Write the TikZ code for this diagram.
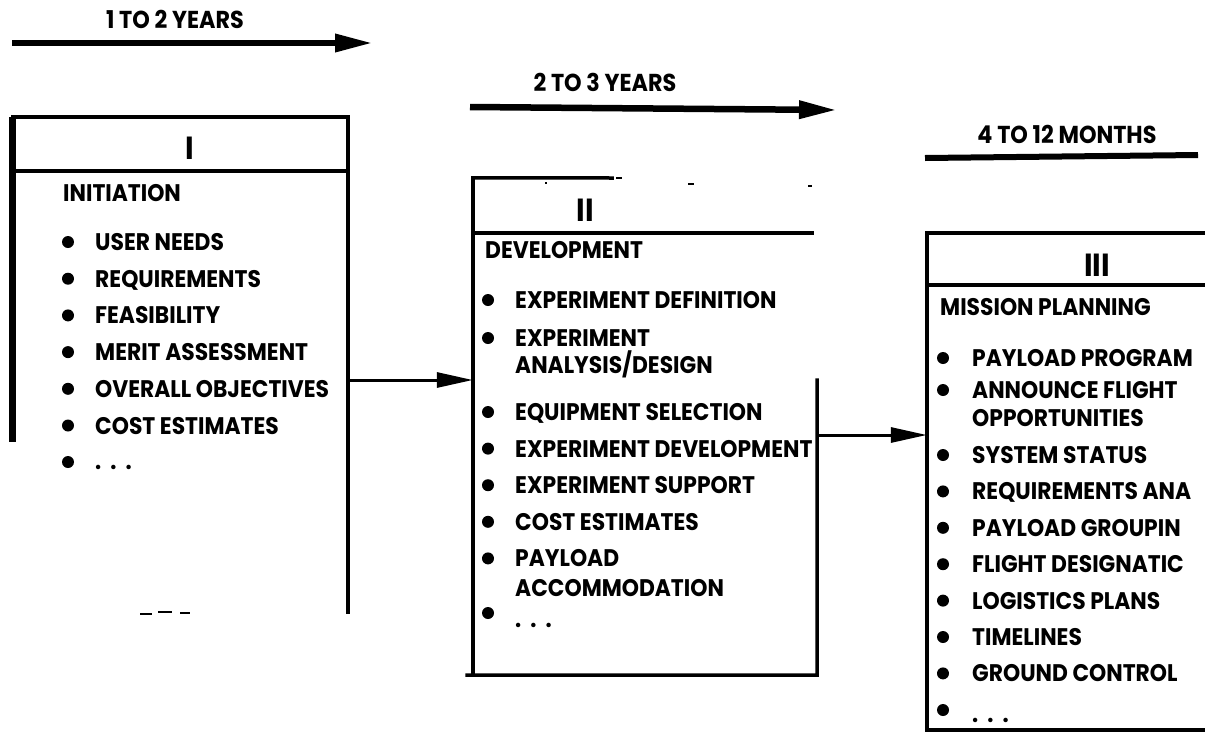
\documentclass[tikz,border=0pt]{standalone}
\usepackage{fontspec}
\setmainfont[FakeStretch=0.91]{Poppins}
\usetikzlibrary{arrows.meta}
\tikzset{
  txt/.style={anchor=base west, inner sep=0pt, font=\fontsize{24}{24}\selectfont\bfseries},
  lbl/.style={anchor=base, inner sep=0pt, font=\fontsize{24.5}{24.5}\selectfont\bfseries},
  num/.style={anchor=base, inner sep=0pt, font=\fontsize{32}{32}\selectfont\bfseries},
  bul/.style={circle, fill=black, draw=none, inner sep=0pt, minimum size=12pt},
  boxarea/.style={draw=none, inner sep=0pt, rectangle},
  frame/.style={line width=3.5pt, line cap=rect},
  span/.style={line width=6.5pt, -{Triangle[length=38pt,width=17pt]}},
  spanline/.style={line width=6pt},
  conn/.style={line width=3pt, -{Triangle[length=36pt,width=15pt]}},
}
\newcommand{\mydots}{{.}\hspace{9pt}{.}\hspace{9pt}{.}}
\begin{document}
\begin{tikzpicture}[x=1pt,y=-1pt]
\useasboundingbox[fill=white] (0,0) rectangle (1205,734);

% box areas
\node[boxarea, minimum width=335pt, minimum height=495pt] (b1) at (180.5,364.5) {};
\node[boxarea, minimum width=344pt, minimum height=497pt] (b2) at (645,426.5) {};
\node[boxarea, minimum width=278pt, minimum height=497pt] (b3) at (1066,481.5) {};

% timeline arrows
\node[lbl] (t1) at (175,28) {1 TO 2 YEARS};
\coordinate (t1a) at (12,43);
\coordinate (t1b) at (373,43);
\draw[span] (t1a) -- (t1b);

\node[lbl] (t2) at (605,91) {2 TO 3 YEARS};
\coordinate (t2a) at (470,107);
\coordinate (t2b) at (837,110);
\draw[span] (t2a) -- (t2b);

\node[lbl] (t3) at (1067,143) {4 TO 12 MONTHS};
\coordinate (t3a) at (925,158);
\coordinate (t3b) at (1198,155);
\draw[spanline] (t3a) -- (t3b);

% ---- Box I ----
\draw[line width=4.5pt, line cap=rect] (b1.south east) -- (b1.north east) -- (b1.north west);
\draw[line width=7pt] (b1.north west) -- (b1.west |- 0,442);
\draw[frame] (b1.west |- 0,171) -- (b1.east |- 0,171);
\node[num] (n1) at (190,159) {I};
\node[txt] (h1) at (63,201.5) {INITIATION};
\foreach \i/\t in {0/USER NEEDS,1/REQUIREMENTS,2/FEASIBILITY,3/MERIT ASSESSMENT,4/OVERALL OBJECTIVES,5/COST ESTIMATES}{
  \node[bul] (b1d\i) at (68,242+36.7*\i) {};
  \node[txt] (b1t\i) at (95,250.5+36.7*\i) {\t};
}
\node[bul] (b1d6) at (68,462) {};
\node[txt] (b1t6) at (95,469) {\mydots};
\draw[line width=2pt] (140,614) -- (152,614) (158,612) -- (172,612) (180,613) -- (190,613);

% ---- Box II ----
\draw[frame] (b2.north west) -- (612,178);
\draw[line width=2pt] (616,178) -- (622,178) (688,184) -- (694,184) (808,186) -- (812,186) (545,183) -- (547,183);
\draw[frame] (b2.north west) -- (b2.south west);
\draw[frame] (467,675) -- (b2.south east) -- (b2.east |- 0,380);
\draw[frame] (b2.west |- 0,233) -- (812,233);
\node[num] (n2) at (585,221) {II};
\node[txt] (h2) at (485,258.5) {DEVELOPMENT};
\node[bul] (b2d0) at (488,300) {};
\node[txt] (b2t0) at (515,308.5) {EXPERIMENT DEFINITION};
\node[bul] (b2d1) at (488,338) {};
\node[txt] (b2t1) at (515,346.5) {EXPERIMENT};
\node[txt] (b2t1b) at (515,373.5) {ANALYSIS/DESIGN};
\foreach \i/\t in {0/EQUIPMENT SELECTION,1/EXPERIMENT DEVELOPMENT,2/EXPERIMENT SUPPORT,3/COST ESTIMATES,4/PAYLOAD}{
  \node[bul] (b2e\i) at (488,412+36.6*\i) {};
  \node[txt] (b2u\i) at (515,420.5+36.6*\i) {\t};
}
\node[txt] (b2u4b) at (515,596.5) {ACCOMMODATION};
\node[bul] (b2e5) at (488,613) {};
\node[txt] (b2u5) at (515,627) {\mydots};

% ---- Box III ----
\draw[frame] (b3.north east) -- (b3.north west) -- (b3.south west) -- (b3.south east);
\draw[frame] (b3.west |- 0,285) -- (b3.east |- 0,285);
\node[num] (n3) at (1097,276) {III};
\node[txt] (h3) at (940,315.5) {MISSION PLANNING};
\node[bul] (b3d0) at (943,358) {};
\node[txt] (b3t0) at (972,366.5) {PAYLOAD PROGRAM};
\node[bul] (b3d1) at (943,390) {};
\node[txt] (b3t1) at (972,398.5) {ANNOUNCE FLIGHT};
\node[txt] (b3t1b) at (972,426.5) {OPPORTUNITIES};
\foreach \i/\t in {0/SYSTEM STATUS,1/REQUIREMENTS ANA,2/PAYLOAD GROUPIN,3/FLIGHT DESIGNATIC,4/LOGISTICS PLANS,5/TIMELINES,6/GROUND CONTROL}{
  \node[bul] (b3e\i) at (943,455+36.4*\i) {};
  \node[txt] (b3u\i) at (972,463.5+36.4*\i) {\t};
}
\node[bul] (b3e7) at (943,710) {};
\node[txt] (b3u7) at (972,722) {\mydots};

% connectors
\draw[conn] (b1.east |- 0,380) -- (b2.west |- 0,380);
\draw[conn] (b2.east |- 0,435) -- (b3.west |- 0,435);
\end{tikzpicture}
\end{document}
